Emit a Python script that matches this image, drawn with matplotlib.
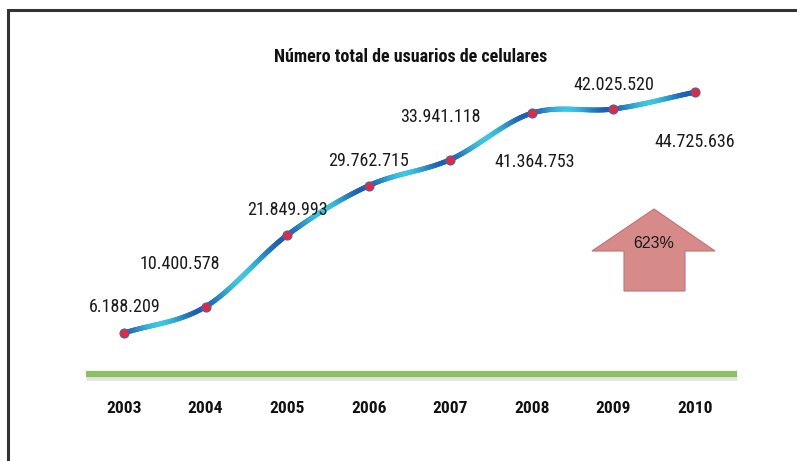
import numpy as np
import matplotlib
matplotlib.use("Agg")
import matplotlib.pyplot as plt
from matplotlib.collections import LineCollection
from matplotlib.patches import Polygon, Rectangle
from matplotlib.colors import LinearSegmentedColormap

years = [2003, 2004, 2005, 2006, 2007, 2008, 2009, 2010]
users = [6188209, 10400578, 21849993, 29762715, 33941118, 41364753, 42025520, 44725636]
labels = ["6.188.209", "10.400.578", "21.849.993", "29.762.715",
          "33.941.118", "41.364.753", "42.025.520", "44.725.636"]
title = "Número total de usuarios de celulares"
growth = "623%"

NARROW = ["Roboto Condensed", "PT Sans Narrow", "DejaVu Sans"]

W, H = 797, 461
fig = plt.figure(figsize=(W / 100, H / 100), dpi=100)
ax = fig.add_axes([0, 0, 1, 1])
ax.set_axis_off()

px_year = (695 - 124) / 7.0
xmin = 2003 - 124 / px_year
ax.set_xlim(xmin, xmin + W / px_year)
px_m = 6.25 / 1e6
ymin = -(H - 371.7) / px_m
ax.set_ylim(ymin, ymin + H / px_m)

# frame
ax.add_patch(Rectangle((8 / W, -0.1), 1.2, 1 - 10 / H + 0.1, transform=ax.transAxes,
                       fill=False, edgecolor="#333333", lw=2.2, clip_on=False))

# green baseline with shadow
ax.plot([86 / W, 737 / W], [1 - 377 / H, 1 - 377 / H], transform=ax.transAxes,
        color="#dddddd", lw=5, solid_capstyle="butt", alpha=0.8)
ax.plot([86 / W, 737 / W], [1 - 373.5 / H, 1 - 373.5 / H], transform=ax.transAxes,
        color="#8cc063", lw=4.5, solid_capstyle="butt")

# smooth curve (Catmull-Rom through the data points)
xs = np.array(years, dtype=float)
ys = np.array(users, dtype=float)
P = np.column_stack([xs, ys])
Pext = np.vstack([2 * P[0] - P[1], P, 2 * P[-1] - P[-2]])
curve = []
for i in range(1, len(Pext) - 2):
    p0, p1, p2, p3 = Pext[i - 1], Pext[i], Pext[i + 1], Pext[i + 2]
    t = np.linspace(0, 1, 60)[:, None]
    seg = 0.5 * ((2 * p1) + (-p0 + p2) * t + (2 * p0 - 5 * p1 + 4 * p2 - p3) * t ** 2
                 + (-p0 + 3 * p1 - 3 * p2 + p3) * t ** 3)
    curve.append(seg if i == 1 else seg[1:])
curve = np.vstack(curve)
segs = np.stack([curve[:-1], curve[1:]], axis=1)
cmap = LinearSegmentedColormap.from_list("bc", ["#1d5fb2", "#3cc6e0"])
param = (curve[:-1, 0] - 2003)
cval = 0.5 - 0.5 * np.cos(2 * np.pi * (param + 0.05))
lc = LineCollection(segs, colors=cmap(cval), linewidths=3.6, capstyle="round")
ax.add_collection(lc)

ax.plot(years, users, "o", ms=6.5, mfc="#e8283a", mec="#3f63b8", mew=0.8, zorder=5)

# value labels (offsets in pixels)
offsets = [(1, 26), (-26, 43), (0, 25), (0, 25), (-10, 43), (3, -49), (0, 24), (0, -50)]
for x, y, lab, (dx, dy) in zip(years, users, labels, offsets):
    ax.annotate(lab, (x, y), xytext=(dx * 0.72, dy * 0.72), textcoords="offset points",
                ha="center", va="center", fontsize=13, family=NARROW, color="#1a1a1a")

# year labels
for x in years:
    ax.text(x, 1 - 408 / H, str(x), transform=ax.get_xaxis_transform(), ha="center",
            va="center", fontsize=12.5, fontweight="bold", family=NARROW, color="#111111")

ax.text(411 / W, 1 - 57.5 / H, title, transform=ax.transAxes, ha="center", va="center",
        fontsize=13, fontweight="bold", family=NARROW, color="#111111")

# arrow
arrow_px = [(654, 209), (715, 251), (685, 251), (685, 291), (624, 291), (624, 251), (592, 251)]
arrow = [(x / W, 1 - y / H) for x, y in arrow_px]
ax.add_patch(Polygon(arrow, closed=True, transform=ax.transAxes, facecolor="#d68a8a",
                     edgecolor="#c97070", lw=0.8))
ax.text(654 / W, 1 - 243 / H, growth, transform=ax.transAxes, ha="center", va="center",
        fontsize=11.5, family=["Liberation Sans", "DejaVu Sans"], color="#1a1a1a")

fig.savefig("out.png", dpi=100)
